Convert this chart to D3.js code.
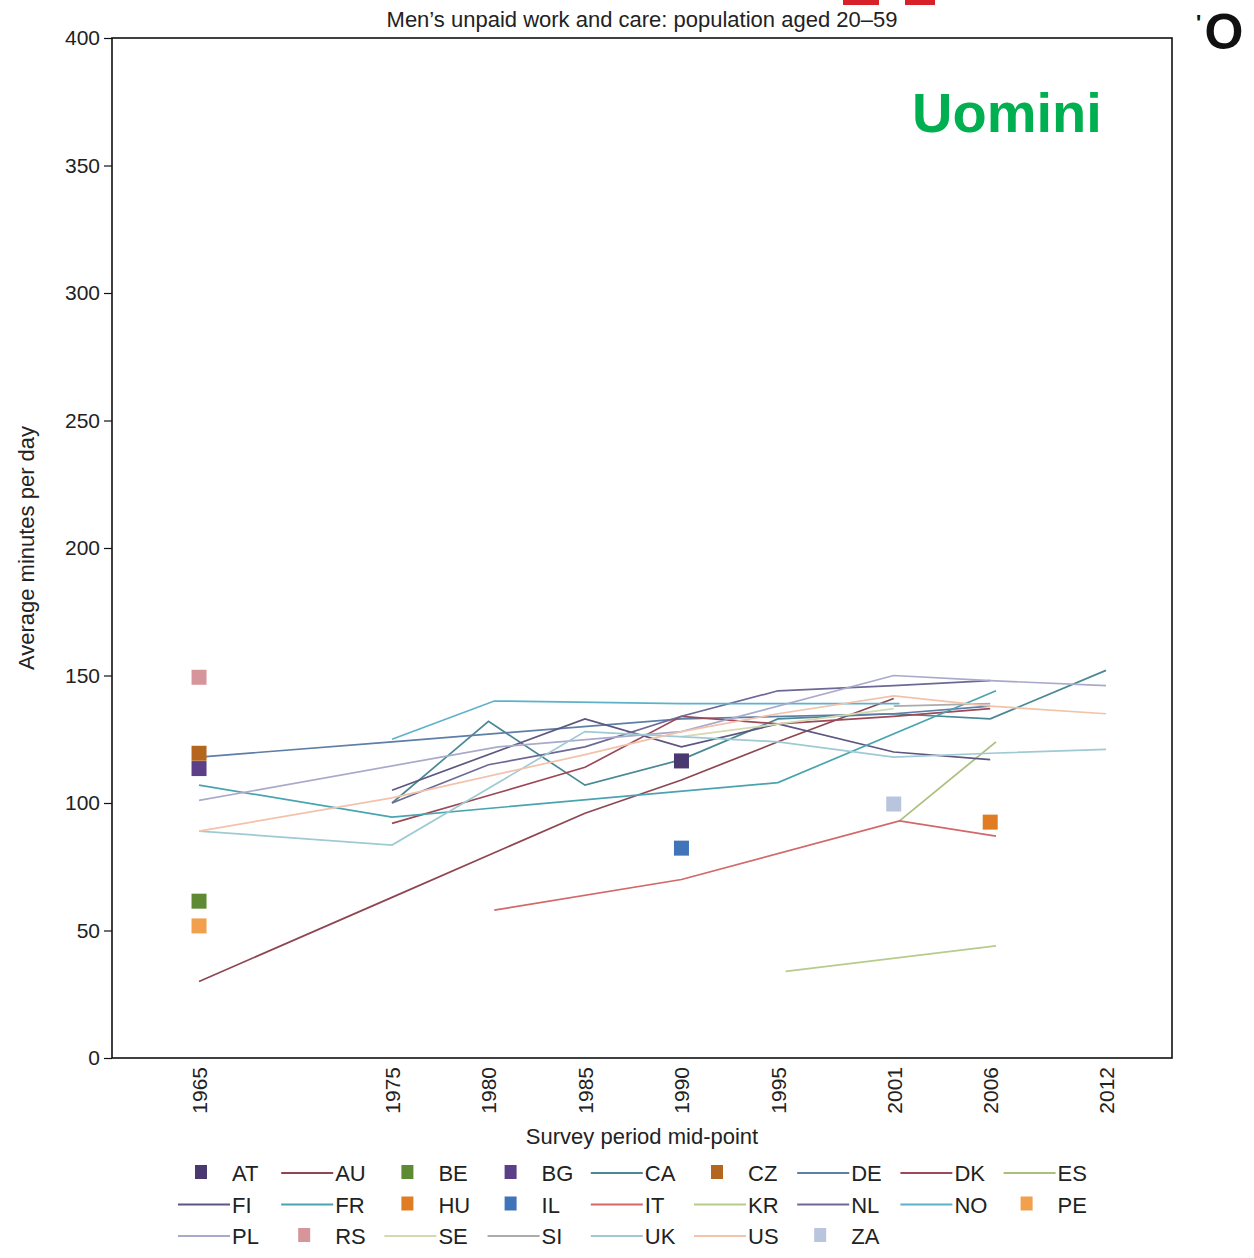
<!DOCTYPE html>
<html>
<head>
<meta charset="utf-8">
<script src="https://cdn.jsdelivr.net/npm/d3@7"></script>
<style>
  body { margin: 0; background: #fff; }
  svg { display: block; font-family: "Liberation Sans", Arial, sans-serif; }
</style>
</head>
<body>
<svg id="chart" width="1254" height="1258"></svg>
<script>
// tick labels
const yearTicks = [1965, 1975, 1980, 1985, 1990, 1995, 2001, 2006, 2012];
const minuteTicks = [0, 50, 100, 150, 200, 250, 300, 350, 400];

// legend order
const countries = ["AT","AU","BE","BG","CA","CZ","DE","DK","ES",
                   "FI","FR","HU","IL","IT","KR","NL","NO","PE",
                   "PL","RS","SE","SI","UK","US","ZA"];

// line series: [year, minutes]
const AU = [[1965, 30], [1975, 63], [1985, 96], [1990, 109], [1995, 124], [2001, 141]];
const CA = [[1975, 100], [1980, 132], [1985, 107], [1990, 117], [1995, 133], [2001, 135], [2006, 133], [2012, 152]];
const DE = [[1965, 118], [1975, 124], [1990, 133], [2001, 135], [2006, 138]];
const DK = [[1975, 92], [1980.5, 104], [1985, 114], [1990, 134], [1995, 131], [2001, 134], [2006, 137]];
const ES = [[2001.3, 93], [2006.3, 124]];
const FI = [[1975, 105], [1985, 133], [1990, 122], [1995, 131], [2001, 120], [2006, 117]];
const FR = [[1965, 107], [1975, 94.5], [1995, 108], [2006.3, 144]];
const IT = [[1980.3, 58], [1990, 70], [2001.3, 93], [2006.3, 87]];
const KR = [[1995.4, 34], [2006.3, 44]];
const NL = [[1975, 100], [1980, 115], [1985, 122], [1990, 134], [1995, 144], [2001, 146], [2006, 148]];
const NO = [[1975, 125], [1980.3, 140], [1990, 139], [2001.3, 139]];
const PL = [[1965, 101], [1980.5, 122], [1990, 128], [2001, 150], [2006, 148], [2012, 146]];
const SE = [[1990, 126], [2001, 137]];
const SI = [[2001, 138], [2006, 139]];
const UK = [[1965, 89], [1975, 83.5], [1985, 128], [1995, 124], [2001, 118], [2006, 119.5], [2012, 121]];
const US = [[1965, 89], [1975, 102], [1985, 119], [1990, 128], [1995, 135], [2001, 142], [2006, 138], [2012, 135]];

// single surveys: [year, minutes]
const AT = [[1990, 116.5]];
const BE = [[1965, 61.5]];
const BG = [[1965, 113.5]];
const CZ = [[1965, 119.5]];
const HU = [[2006, 92.5]];
const IL = [[1990, 82.3]];
const PE = [[1965, 51.8]];
const RS = [[1965, 149.3]];
const ZA = [[2001, 99.6]];

const lineData = {AU, CA, DE, DK, ES, FI, FR, IT, KR, NL, NO, PL, SE, SI, UK, US};
const pointData = {AT, BE, BG, CZ, HU, IL, PE, RS, ZA};

const colors = {
  AT: "#4a3970", AU: "#8e4650", BE: "#5f8a34", BG: "#5b3f88", CA: "#4a8894",
  CZ: "#b5661e", DE: "#5d7ea6", DK: "#9c4858", ES: "#a9c07a", FI: "#5c5680",
  FR: "#49a4b0", HU: "#e07d22", IL: "#3f74b8", IT: "#d26868", KR: "#b6cc8c",
  NL: "#6d6894", NO: "#5db2ca", PE: "#f2a04e", PL: "#a9a9cc", RS: "#d6959b",
  SE: "#d4d9b2", SI: "#ababab", UK: "#9fcad3", US: "#f2c2aa", ZA: "#b9c5dd"
};

const svg = d3.select("#chart");
const plotLeft = 112, plotRight = 1172, plotTop = 38, plotBottom = 1058;

const x = d3.scaleLinear()
  .domain([1960.49, 2015.42])
  .range([plotLeft, plotRight]);

const y = d3.scaleLinear()
  .domain([0, 400])
  .range([plotBottom, plotTop]);

// frame
svg.append("rect")
  .attr("x", plotLeft).attr("y", plotTop)
  .attr("width", plotRight - plotLeft).attr("height", plotBottom - plotTop)
  .attr("fill", "none").attr("stroke", "#111").attr("stroke-width", 1.6);

// y axis
const yAxis = svg.append("g")
  .attr("transform", `translate(${plotLeft},0)`)
  .call(d3.axisLeft(y).tickValues(minuteTicks).tickSize(8).tickPadding(4));
yAxis.select(".domain").remove();
yAxis.selectAll("line").attr("stroke", "#111").attr("stroke-width", 1.2);
yAxis.selectAll("text").attr("font-size", 21).attr("fill", "#222")
  .attr("font-family", "Liberation Sans, Arial, sans-serif");

// x axis labels (rotated)
const xAxis = svg.append("g")
  .attr("transform", `translate(0,${plotBottom})`)
  .call(d3.axisBottom(x).tickValues(yearTicks).tickSize(0).tickFormat(d3.format("d")));
xAxis.select(".domain").remove();
xAxis.selectAll("text")
  .attr("font-size", 21).attr("fill", "#222")
  .attr("font-family", "Liberation Sans, Arial, sans-serif")
  .attr("transform", "rotate(-90)")
  .attr("text-anchor", "end")
  .attr("x", -9).attr("y", 0).attr("dy", "0.35em");

// titles
svg.append("text")
  .attr("x", 642).attr("y", 27)
  .attr("text-anchor", "middle").attr("font-size", 22).attr("fill", "#222")
  .text("Men\u2019s unpaid work and care: population aged 20\u201359");

svg.append("text")
  .attr("x", 642).attr("y", 1144)
  .attr("text-anchor", "middle").attr("font-size", 22).attr("fill", "#222")
  .text("Survey period mid-point");

svg.append("text")
  .attr("transform", "translate(34,548) rotate(-90)")
  .attr("text-anchor", "middle").attr("font-size", 22).attr("fill", "#222")
  .text("Average minutes per day");

// lines
const line = d3.line().x(d => x(d[0])).y(d => y(d[1]));
Object.entries(lineData).forEach(([k, v]) => {
  svg.append("path")
    .datum(v)
    .attr("d", line)
    .attr("fill", "none")
    .attr("stroke", colors[k])
    .attr("stroke-width", 1.7);
});

// points
Object.entries(pointData).forEach(([k, v]) => {
  svg.selectAll(null)
    .data(v)
    .enter().append("rect")
    .attr("x", d => x(d[0]) - 7.5)
    .attr("y", d => y(d[1]) - 7.5)
    .attr("width", 15).attr("height", 15)
    .attr("fill", colors[k]);
});

// legend
const legend = svg.append("g");
countries.forEach(function(c, i) {
  const col = i % 9, row = Math.floor(i / 9);
  const lx = 232 + col * 103.2;
  const ly = 1173 + row * 31.5;
  if (lineData[c]) {
    legend.append("line")
      .attr("x1", lx - 54).attr("x2", lx - 2)
      .attr("y1", ly).attr("y2", ly)
      .attr("stroke", colors[c]).attr("stroke-width", 2);
  } else {
    legend.append("rect")
      .attr("x", lx - 37).attr("y", ly - 8)
      .attr("width", 12).attr("height", 14)
      .attr("fill", colors[c]);
  }
  legend.append("text")
    .attr("x", lx).attr("y", ly + 8)
    .attr("font-size", 22).attr("fill", "#222")
    .text(c);
});

// overlay label
svg.append("text")
  .attr("x", 912).attr("y", 132)
  .attr("font-size", 56).attr("font-weight", "bold")
  .attr("fill", "#00b050")
  .text("Uomini");

svg.append("text")
  .attr("x", 1224).attr("y", 49)
  .attr("text-anchor", "middle")
  .attr("font-size", 50).attr("font-weight", "bold").attr("fill", "#111")
  .text("O");
svg.append("text")
  .attr("x", 1196).attr("y", 30)
  .attr("font-size", 22).attr("font-weight", "bold").attr("fill", "#111")
  .text("'");

// clipped logo sliver at top edge
svg.append("rect").attr("x", 843).attr("y", 0).attr("width", 36).attr("height", 5).attr("fill", "#d8202a");
svg.append("rect").attr("x", 905).attr("y", 0).attr("width", 30).attr("height", 5).attr("fill", "#d8202a");
</script>
</body>
</html>
